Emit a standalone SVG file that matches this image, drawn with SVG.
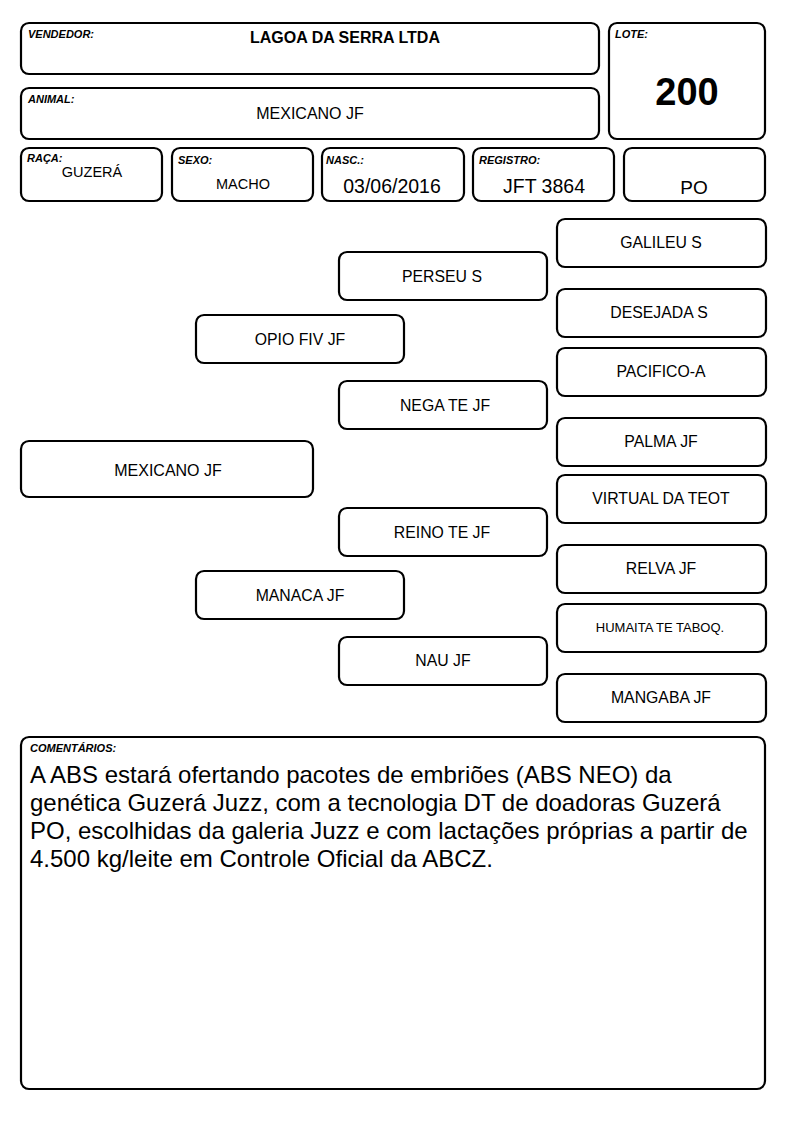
<svg xmlns="http://www.w3.org/2000/svg" width="794" height="1123" viewBox="0 0 794 1123">
<style>
.b{fill:#fff;stroke:#000;stroke-width:2.2}
.l{font-family:"Liberation Sans",Arial,sans-serif;font-size:11px;font-weight:bold;font-style:italic;fill:#000}
.t{font-family:"Liberation Sans",Arial,sans-serif;font-size:15.8px;fill:#000;text-anchor:middle}
.c{font-family:"Liberation Sans",Arial,sans-serif;font-size:24px;fill:#000}
</style>
<rect width="794" height="1123" fill="#fff"/>
<g id="vendedor"><rect class="b" x="21" y="23" width="578" height="51" rx="8"/><text class="l" x="28" y="38">VENDEDOR:</text><text class="t" x="345" y="43" style="font-size:16px;font-weight:bold">LAGOA DA SERRA LTDA</text></g>
<g id="animal"><rect class="b" x="21" y="88" width="578" height="51" rx="8"/><text class="l" x="28" y="103">ANIMAL:</text><text class="t" x="310" y="119" style="font-size:16px">MEXICANO JF</text></g>
<g id="lote"><rect class="b" x="609" y="23" width="156" height="116" rx="8"/><text class="l" x="615" y="38">LOTE:</text><text class="t" x="687" y="105" style="font-size:38px;font-weight:bold">200</text></g>
<g id="raca"><rect class="b" x="21" y="148" width="141" height="53" rx="8"/><text class="l" x="27" y="162">RAÇA:</text><text class="t" x="92" y="177" style="font-size:14.5px">GUZERÁ</text></g>
<g id="sexo"><rect class="b" x="172" y="148" width="141" height="53" rx="8"/><text class="l" x="178" y="164">SEXO:</text><text class="t" x="243" y="189" style="font-size:14.5px">MACHO</text></g>
<g id="nasc"><rect class="b" x="322" y="148" width="142" height="53" rx="8"/><text class="l" x="326" y="164">NASC.:</text><text class="t" x="392" y="193" style="font-size:19.5px">03/06/2016</text></g>
<g id="registro"><rect class="b" x="473" y="148" width="141" height="53" rx="8"/><text class="l" x="479" y="164">REGISTRO:</text><text class="t" x="544" y="193" style="font-size:19.5px">JFT 3864</text></g>
<g id="po"><rect class="b" x="624" y="148" width="141" height="53" rx="8"/><text class="t" x="694" y="194" style="font-size:19px">PO</text></g>

<g id="p0"><rect class="b" x="21" y="441" width="292" height="56" rx="8"/><text class="t" x="168" y="476" style="font-size:16px">MEXICANO JF</text></g>
<g id="p1"><rect class="b" x="196" y="315" width="208" height="48" rx="8"/><text class="t" x="300" y="345">OPIO FIV JF</text></g>
<g id="p2"><rect class="b" x="196" y="571" width="208" height="48" rx="8"/><text class="t" x="300" y="601">MANACA JF</text></g>
<g id="p3"><rect class="b" x="339" y="252" width="208" height="48" rx="8"/><text class="t" x="442" y="282">PERSEU S</text></g>
<g id="p4"><rect class="b" x="339" y="381" width="208" height="48" rx="8"/><text class="t" x="445" y="411">NEGA TE JF</text></g>
<g id="p5"><rect class="b" x="339" y="508" width="208" height="48" rx="8"/><text class="t" x="442" y="538">REINO TE JF</text></g>
<g id="p6"><rect class="b" x="339" y="637" width="208" height="48" rx="8"/><text class="t" x="443" y="666">NAU JF</text></g>
<g id="p7"><rect class="b" x="557" y="219" width="209" height="48" rx="8"/><text class="t" x="661" y="248">GALILEU S</text></g>
<g id="p8"><rect class="b" x="557" y="289" width="209" height="48" rx="8"/><text class="t" x="659" y="318">DESEJADA S</text></g>
<g id="p9"><rect class="b" x="557" y="348" width="209" height="48" rx="8"/><text class="t" x="661" y="377">PACIFICO-A</text></g>
<g id="p10"><rect class="b" x="557" y="418" width="209" height="48" rx="8"/><text class="t" x="661" y="447">PALMA JF</text></g>
<g id="p11"><rect class="b" x="557" y="475" width="209" height="48" rx="8"/><text class="t" x="661" y="504">VIRTUAL DA TEOT</text></g>
<g id="p12"><rect class="b" x="557" y="545" width="209" height="48" rx="8"/><text class="t" x="661" y="574">RELVA JF</text></g>
<g id="p13"><rect class="b" x="557" y="604" width="209" height="48" rx="8"/><text class="t" x="660" y="632" style="font-size:13px">HUMAITA TE TABOQ.</text></g>
<g id="p14"><rect class="b" x="557" y="674" width="209" height="48" rx="8"/><text class="t" x="661" y="703">MANGABA JF</text></g>
<g id="connectors"></g>
<g id="comentarios"><rect class="b" x="21" y="737" width="744" height="352" rx="8"/><text class="l" x="30" y="752">COMENTÁRIOS:</text>
<text class="c"><tspan x="30" y="783">A ABS estará ofertando pacotes de embriões (ABS NEO) da</tspan><tspan x="30" y="811">genética Guzerá Juzz, com a tecnologia DT de doadoras Guzerá</tspan><tspan x="30" y="839">PO, escolhidas da galeria Juzz e com lactações próprias a partir de</tspan><tspan x="30" y="867">4.500 kg/leite em Controle Oficial da ABCZ.</tspan></text></g>
</svg>
